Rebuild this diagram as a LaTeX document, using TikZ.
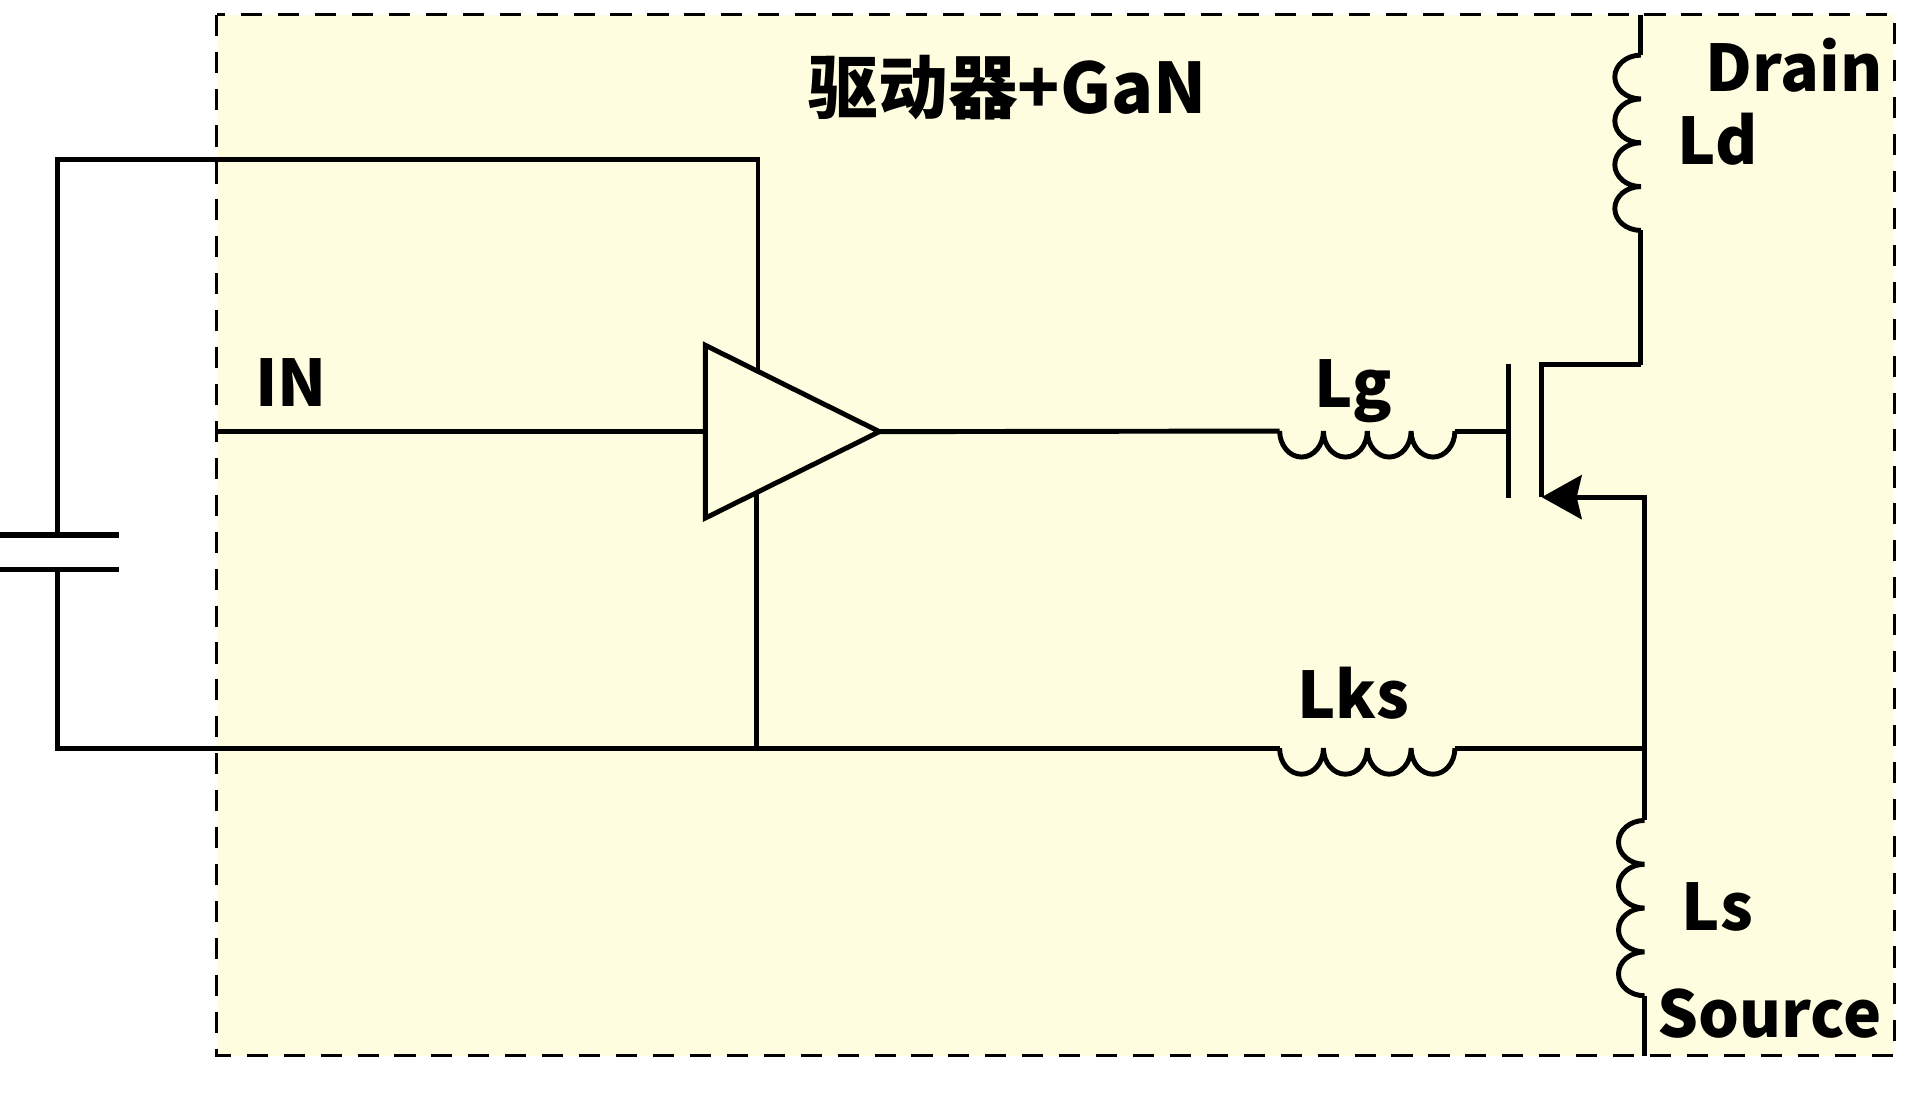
\documentclass[tikz,border=0pt]{standalone}
\usepackage{fontspec}
\setmainfont{Noto Sans CJK SC}
\usetikzlibrary{shapes.geometric,arrows.meta}
\definecolor{boxFill}{HTML}{FFFDE0}
\tikzset{wire/.style = {line width=1.4pt, black},
  frame/.style = {draw=black, line width=1pt, dash pattern=on 6pt off 4.5pt, fill=boxFill},
  plate/.style = {line width=1.5pt, black},
  label/.style = {anchor=base west, inner sep=0pt, font=\fontsize{18.3pt}{20pt}\selectfont\bfseries},
  driver/.style = {draw=black, line width=1.4pt, isosceles triangle, isosceles triangle apex angle=52.8,
    minimum height=17.4mm, inner sep=0pt, outer sep=0pt, anchor=lower side},
  coil/.pic = {\coordinate (-in) at (0,0);
    \coordinate (-out) at (17.5mm,0);
    \draw[wire] (0,0) \foreach \k in {1,...,4} {arc[start angle=180, end angle=360, x radius=2.19mm, y radius=2.6mm]};}}
\begin{document}
\begin{tikzpicture}[x=0.012245cm, y=-0.012245cm]
  \useasboundingbox (0,0) rectangle (1568,895);

  \draw[frame] (177,12) rectangle (1547,862);

  % driver and gate path
  \node[driver] (amp) at (576,352.5) {};
  \coordinate (inPin) at (177,352);
  \pic (lg) at (1045,352) {coil};
  \coordinate (gate) at (1232,352);
  \draw[wire] (inPin) -- (inPin -| amp.lower side);
  \draw[wire] (amp.apex) -- (lg-in);
  \draw[wire] (lg-out) -- (gate);

  % supply loop
  \coordinate (capTop) at (47,437);
  \coordinate (capBot) at (47,465);
  \coordinate (vddLeft) at (47,130);
  \coordinate (vddRight) at (619,130);
  \coordinate (ampTop) at (619,303);
  \coordinate (ampBot) at (618,403);
  \coordinate (gndLeft) at (47,611);
  \coordinate (gndMid) at (618,611);
  \coordinate (gndRight) at (1343,611);
  \pic (lks) at (1045,611) {coil};
  \draw[wire] (capTop) -- (vddLeft) -- (vddRight) -- (ampTop);
  \draw[wire] (capBot) -- (gndLeft) -- (lks-in);
  \draw[wire] (ampBot) -- (gndMid);
  \draw[wire] (lks-out) -- (gndRight);
  \draw[plate] (0,437) -- (97,437);
  \draw[plate] (0,465) -- (97,465);

  % transistor
  \coordinate (gateTop) at (1232,297);
  \coordinate (gateBot) at (1232,407);
  \coordinate (chanTop) at (1259,298);
  \coordinate (chanBot) at (1259,406);
  \coordinate (drainCorner) at (1340,298);
  \coordinate (sourceCorner) at (1343,406);
  \draw[wire] (gateTop) -- (gateBot);
  \draw[wire] (chanBot) -- (chanTop) -- (drainCorner);

  % drain and source leads
  \pic[rotate=-90] (ld) at (1340,45) {coil};
  \pic[rotate=-90] (ls) at (1343,670) {coil};
  \coordinate (drainPin) at (1340,12);
  \coordinate (sourcePin) at (1343,862);
  \draw[wire] (drainPin) -- (ld-in);
  \draw[wire] (ld-out) -- (drainCorner);
  \draw[wire,-{Stealth[length=4mm,width=4.4mm,inset=0.5mm]}] (gndRight) -- (sourceCorner) -- (chanBot);
  \draw[wire] (gndRight) -- (ls-in);
  \draw[wire] (ls-out) -- (sourcePin);

  \node[label,font=\fontsize{19.8pt}{22pt}\selectfont\bfseries] (title) at (660,93) {驱动器+GaN};
  \node[label] (drainLabel) at (1392.5,75) {Drain};
  \node[label] (ldLabel) at (1369.5,134) {Ld};
  \node[label] (inLabel) at (208,332) {IN};
  \node[label] (lgLabel) at (1073,333) {Lg};
  \node[label] (lksLabel) at (1059,586.5) {Lks};
  \node[label] (lsLabel) at (1373,760) {Ls};
  \node[label] (sourceLabel) at (1353,847.5) {Source};
\end{tikzpicture}
\end{document}
